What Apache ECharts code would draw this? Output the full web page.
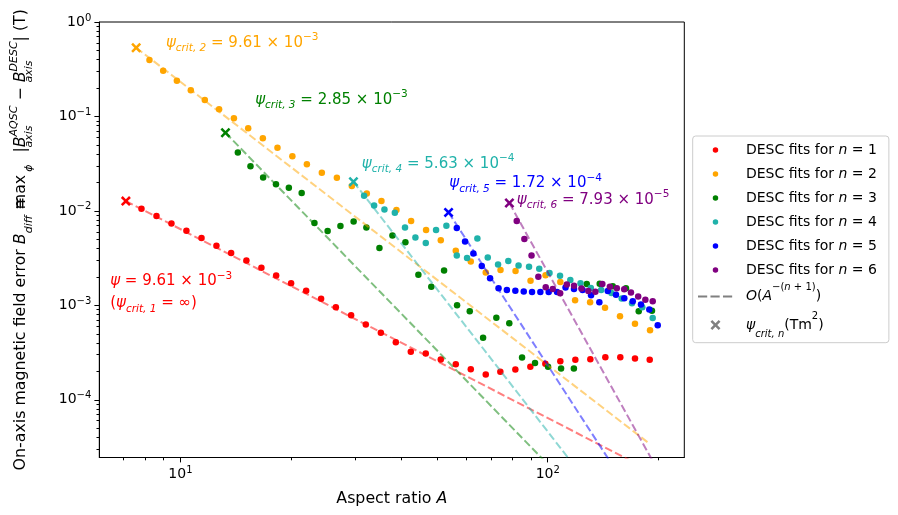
<!DOCTYPE html>
<html>
<head>
<meta charset="utf-8">
<script src="https://cdn.jsdelivr.net/npm/echarts@6/dist/echarts.min.js"></script>
<style>
  html, body { margin: 0; padding: 0; background: #fff; }
  #chart { width: 898px; height: 515px; }
</style>
</head>
<body>
<div id="chart"></div>
<script>
// DESC fit errors (T) against aspect ratio A, one pair of arrays per order n
const aspect1 = [7.831, 8.604, 9.451, 10.38, 11.41, 12.53, 13.74, 15.12, 16.61, 18.22, 20.01, 21.99, 24.15, 26.49, 29.15, 31.96, 35.12, 38.58, 42.38, 46.55, 51.14, 56.18, 61.72, 67.80, 74.29, 81.62, 89.66, 98.51, 108.2, 118.9, 130.6, 143.5, 157.6, 172.8, 189.5];
const error1 = [0.01053, 0.008810, 0.007372, 0.006153, 0.005151, 0.004270, 0.003572, 0.002990, 0.002496, 0.002074, 0.001718, 0.001424, 0.001172, 0.0009570, 0.0007873, 0.0006277, 0.0005112, 0.0004075, 0.0003217, 0.0003094, 0.0002673, 0.0002383, 0.0002109, 0.0001853, 0.0001984, 0.0002094, 0.0002231, 0.0002400, 0.0002563, 0.0002660, 0.0002680, 0.0002813, 0.0002813, 0.0002738, 0.0002647];

const aspect2 = [8.234, 8.972, 9.777, 10.67, 11.65, 12.74, 13.98, 15.29, 16.76, 18.37, 20.17, 22.09, 24.26, 26.66, 29.28, 32.16, 35.25, 38.73, 42.46, 46.64, 51.14, 56.18, 61.72, 67.80, 74.38, 81.72, 89.77, 98.63, 108.2, 118.7, 130.4, 143.2, 157.3, 172.8, 189.9];
const error2 = [0.3958, 0.3049, 0.2389, 0.1890, 0.1492, 0.1189, 0.09547, 0.07482, 0.05862, 0.04661, 0.03778, 0.03116, 0.02533, 0.02242, 0.01831, 0.01532, 0.01270, 0.01020, 0.007796, 0.006259, 0.004882, 0.003778, 0.002918, 0.002231, 0.002360, 0.002303, 0.001817, 0.002078, 0.001761, 0.001129, 0.001081, 0.0009455, 0.0007684, 0.0006400, 0.0005460];

const aspect3 = [14.33, 15.51, 16.79, 18.20, 19.73, 21.38, 23.16, 25.16, 27.26, 29.61, 32.08, 34.81, 37.77, 40.97, 44.44, 48.19, 52.21, 56.64, 61.33, 66.67, 72.45, 78.58, 85.12, 92.34, 100.2, 108.7, 117.8, 127.7, 138.5, 150.3, 163.3, 176.9, 192.2];
const error3 = [0.04146, 0.02968, 0.02253, 0.01909, 0.01753, 0.01543, 0.007463, 0.006109, 0.006935, 0.007739, 0.006653, 0.004036, 0.005500, 0.004649, 0.002104, 0.001570, 0.002331, 0.001005, 0.0008681, 0.0004548, 0.0007373, 0.0006447, 0.0002806, 0.0002454, 0.0002231, 0.0002146, 0.0002146, 0.001685, 0.001689, 0.001597, 0.001521, 0.0008681, 0.0008787];

const aspect4 = [31.62, 33.67, 35.92, 38.34, 40.87, 43.62, 46.55, 49.65, 52.97, 56.54, 60.30, 64.33, 68.66, 73.23, 78.09, 83.28, 88.93, 94.81, 101.1, 108.0, 115.2, 122.8, 131.0, 139.8, 149.1, 159.0, 169.6, 180.9, 193.1];
const error4 = [0.01446, 0.01143, 0.01037, 0.009547, 0.006686, 0.005239, 0.004584, 0.006290, 0.006952, 0.003378, 0.003162, 0.005088, 0.003217, 0.002712, 0.002954, 0.002634, 0.002558, 0.002436, 0.002203, 0.002054, 0.001849, 0.001718, 0.001528, 0.001456, 0.001353, 0.001183, 0.001055, 0.0009570, 0.0007355];

const aspect5 = [56.54, 59.55, 62.74, 66.13, 69.66, 73.46, 77.40, 81.62, 86.04, 90.62, 95.47, 100.6, 106.0, 111.8, 117.9, 124.4, 131.2, 138.2, 145.7, 153.4, 161.6, 170.4, 179.4, 189.0, 199.3];
const error5 = [0.006573, 0.004752, 0.003528, 0.002602, 0.001941, 0.001521, 0.001449, 0.001431, 0.001397, 0.001380, 0.001380, 0.001380, 0.001380, 0.001540, 0.001485, 0.001449, 0.001282, 0.001081, 0.001414, 0.001292, 0.001192, 0.001108, 0.001022, 0.0009050, 0.0006171];

const aspect6 = [82.34, 86.37, 90.34, 94.28, 98.75, 103.2, 108.1, 112.7, 117.9, 123.5, 129.0, 134.8, 140.8, 147.6, 154.2, 161.5, 168.5, 176.3, 184.4, 193.1];
const error6 = [0.007796, 0.005051, 0.003378, 0.002004, 0.001551, 0.001492, 0.001346, 0.001665, 0.001609, 0.001503, 0.001421, 0.001390, 0.001685, 0.001570, 0.001521, 0.001478, 0.001369, 0.001239, 0.001143, 0.001103];

// psi_crit points (crosses) and where each O(A^-(n+1)) guide line ends
const critAspect = [7.102, 7.576, 13.26, 29.58, 53.70, 78.63];
const critError = [0.01270, 0.5341, 0.06720, 0.02034, 0.009641, 0.01210];
const guideEndAspect = [189.5, 189.9, 192.2, 193.1, 199.3, 193.1];
const guideEndError = [1.784e-5, 3.394e-5, 1.520e-6, 1.713e-6, 3.695e-6, 2.241e-5];
const critMantissa = ['9.61', '9.61', '2.85', '5.63', '1.72', '7.93'];
const critExponent = ['−3', '−3', '−3', '−4', '−4', '−5'];

const orderNames = ['DESC fits for n = 1', 'DESC fits for n = 2', 'DESC fits for n = 3',
  'DESC fits for n = 4', 'DESC fits for n = 5', 'DESC fits for n = 6'];
const guideName = 'O(A^-(n+1))';
const critName = 'psi_crit,n (Tm2)';

// tick positions
const xMajorTicks = [10, 100];
const xMinorTicks = [7, 8, 9, 20, 30, 40, 50, 60, 70, 80, 90, 200];
const yMajorTicks = [1e-4, 1e-3, 1e-2, 1e-1, 1];
const yMinorTicks = [3e-5, 4e-5, 5e-5, 6e-5, 7e-5, 8e-5, 9e-5,
  2e-4, 3e-4, 4e-4, 5e-4, 6e-4, 7e-4, 8e-4, 9e-4,
  2e-3, 3e-3, 4e-3, 5e-3, 6e-3, 7e-3, 8e-3, 9e-3,
  2e-2, 3e-2, 4e-2, 5e-2, 6e-2, 7e-2, 8e-2, 9e-2,
  0.2, 0.3, 0.4, 0.5, 0.6, 0.7, 0.8, 0.9];

const aspects = [aspect1, aspect2, aspect3, aspect4, aspect5, aspect6];
const errors = [error1, error2, error3, error4, error5, error6];
const colors = ['#ff0000', '#ffa500', '#008000', '#20b2aa', '#0000ff', '#800080'];
const guideColors = ['rgba(255,0,0,0.5)', 'rgba(255,165,0,0.5)', 'rgba(0,128,0,0.5)',
  'rgba(32,178,170,0.5)', 'rgba(0,0,255,0.5)', 'rgba(128,0,128,0.5)'];
// label nudges for the psi_crit annotations, relative to each cross
const labelOffsets = [[-25.7, 91.5], [19.7, -4.7], [19.7, -33], [-1.6, -17.7], [-9.2, -29], [-2.6, -3]];

const FONT = 'DejaVu Sans';
const CROSS = 'path://M0,1.8L1.8,0L5,3.2L8.2,0L10,1.8L6.8,5L10,8.2L8.2,10L5,6.8L1.8,10L0,8.2L3.2,5Z';
const DOT = 'path://M0,0L0,0.01M10,10L10,10.01M7.75,5A2.75,2.75,0,1,1,2.25,5A2.75,2.75,0,1,1,7.75,5Z';
const DASHES = 'path://M0,0L0,0.01M35,10L35,10.01M0,4L9.2,4L9.2,6L0,6ZM12.5,4L21.7,4L21.7,6L12.5,6ZM25,4L34.2,4L34.2,6L25,6Z';

function rs(o) { return Object.assign({ fontFamily: FONT }, o); }

const tickRich = {
  t: rs({ fontSize: 14, lineHeight: 18, color: '#000' }),
  sup: rs({ fontSize: 10, lineHeight: 10, verticalAlign: 'top', color: '#000' })
};
function powerLabel(v) {
  const e = Math.round(Math.log10(v));
  return '{t|10}{sup|' + (e < 0 ? '−' + (-e) : e) + '}';
}

const annoRich = {
  t: rs({ fontSize: 15, lineHeight: 22 }),
  i: rs({ fontSize: 15, fontStyle: 'italic', lineHeight: 22 }),
  sub: rs({ fontSize: 10.5, fontStyle: 'italic', lineHeight: 17, verticalAlign: 'bottom' }),
  sup: rs({ fontSize: 10.5, lineHeight: 12, verticalAlign: 'top' })
};
function critText(k) {
  if (k === 0) {
    return '{i|ψ}{t| = ' + critMantissa[0] + ' × 10}{sup|' + critExponent[0] + '}\n' +
      '{t|(}{i|ψ}{sub|crit, 1}{t| = ∞)}';
  }
  return '{i|ψ}{sub|crit, ' + (k + 1) + '}{t| = ' + critMantissa[k] + ' × 10}{sup|' + critExponent[k] + '}';
}

const legendRich = {
  t: rs({ fontSize: 14, color: '#000' }),
  i: rs({ fontSize: 14, fontStyle: 'italic', color: '#000' }),
  sup: rs({ fontSize: 10, lineHeight: 13, verticalAlign: 'top', color: '#000' }),
  supi: rs({ fontSize: 10, fontStyle: 'italic', lineHeight: 13, verticalAlign: 'top', color: '#000' }),
  sub: rs({ fontSize: 10, fontStyle: 'italic', lineHeight: 19, verticalAlign: 'bottom', color: '#000' }),
  sup2: rs({ fontSize: 10, lineHeight: 17, verticalAlign: 'top', color: '#000' })
};
function legendText(name) {
  if (name === guideName) return '{i|O}{t|(}{i|A}{sup|−(}{supi|n}{sup| + 1)}{t|)}';
  if (name === critName) return '{i|ψ}{sub|crit, n}{t|(Tm}{sup2|2}{t|)}';
  return '{t|DESC fits for }{i|n}{t| = ' + name.slice(-1) + '}';
}

const NAME_SIZE = 15.8;
const yNameRich = {
  t: rs({ fontSize: NAME_SIZE, lineHeight: 26, color: '#000' }),
  i: rs({ fontSize: NAME_SIZE, fontStyle: 'italic', lineHeight: 26, color: '#000' }),
  sub: rs({ fontSize: 11, fontStyle: 'italic', lineHeight: 19, verticalAlign: 'bottom', color: '#000' }),
  subz: rs({ fontSize: 11, fontStyle: 'italic', lineHeight: 19, verticalAlign: 'bottom', width: 0.01, color: '#000' }),
  sup: rs({ fontSize: 11, fontStyle: 'italic', lineHeight: 13, verticalAlign: 'top', color: '#000' }),
  maxz: rs({ fontSize: NAME_SIZE, lineHeight: 26, width: 0.01, color: '#000' }),
  phiw: rs({ fontSize: 11, fontStyle: 'italic', lineHeight: 12, verticalAlign: 'bottom', width: 20.8, padding: [0, 0, 0, 13.6], color: '#000' })
};
const yName = '{t|On-axis magnetic field error }{i|B}{sub|diff}{t| ≡ }{maxz|max}{phiw|ϕ}{t| |}' +
  '{i|B}{subz|axis}{sup|AQSC}{t| − }{i|B}{subz|axis}{sup|DESC}{t|| (T)}';

const series = [];
for (let k = 0; k < 6; k++) {
  series.push({
    type: 'scatter',
    name: orderNames[k],
    data: aspects[k].map((a, i) => [a, errors[k][i]]),
    symbol: 'circle',
    symbolSize: 6.5,
    itemStyle: { color: colors[k], opacity: 1 },
    silent: true,
    z: 2
  });
}
for (let k = 0; k < 6; k++) {
  series.push({
    type: 'line',
    name: 'guide' + (k + 1),
    data: [[critAspect[k], critError[k]], [guideEndAspect[k], guideEndError[k]]],
    showSymbol: false,
    symbol: 'none',
    lineStyle: { color: guideColors[k], width: 2, type: [7.7, 3.3] },
    silent: true,
    z: 3
  });
  series.push({
    type: 'scatter',
    name: 'crit' + (k + 1),
    data: [[critAspect[k], critError[k]]],
    symbol: CROSS,
    symbolSize: 10,
    itemStyle: { color: colors[k], opacity: 1 },
    silent: true,
    z: 4,
    label: {
      show: true,
      position: 'right',
      distance: 5,
      offset: labelOffsets[k],
      color: colors[k],
      fontFamily: FONT,
      formatter: critText(k),
      rich: annoRich
    }
  });
}
// legend-only entries
series.push({
  type: 'line', name: guideName, data: [], symbol: 'none',
  itemStyle: { color: '#808080', opacity: 1 },
  lineStyle: { color: '#808080', width: 2, type: [7.7, 3.3] }
});
series.push({
  type: 'scatter', name: critName, data: [], symbol: CROSS,
  itemStyle: { color: '#808080', opacity: 1 }
});

const legendData = orderNames.map(n => ({ name: n, icon: DOT }));
legendData.push({ name: guideName, icon: DASHES, textStyle: { lineHeight: 29 } });
legendData.push({ name: critName, icon: CROSS, textStyle: { lineHeight: 28 } });

const chart = echarts.init(document.getElementById('chart'), null, { renderer: 'canvas' });
chart.setOption({
  animation: false,
  backgroundColor: '#fff',
  textStyle: { fontFamily: FONT },
  grid: {
    left: 99.3, right: 213.7, top: 22, bottom: 57.5,
    show: true, borderColor: '#000', borderWidth: 1, backgroundColor: 'transparent',
    containLabel: false, outerBoundsMode: 'none'
  },
  xAxis: [{
    type: 'log', logBase: 10, min: 6.012, max: 235.4,
    name: 'Aspect ratio {i|A}', nameLocation: 'middle', nameGap: 31,
    nameTextStyle: {
      fontFamily: FONT, fontSize: NAME_SIZE, color: '#000', lineHeight: 20,
      rich: { i: rs({ fontSize: NAME_SIZE, fontStyle: 'italic', lineHeight: 20, color: '#000' }) }
    },
    axisLine: { show: true, onZero: false, lineStyle: { color: '#000', width: 1 } },
    axisTick: { show: true, customValues: xMajorTicks, length: 4.9, lineStyle: { color: '#000', width: 1 } },
    axisLabel: { customValues: xMajorTicks, formatter: powerLabel, rich: tickRich, margin: 8, color: '#000' },
    splitLine: { show: false }
  }, {
    type: 'log', logBase: 10, min: 6.012, max: 235.4, gridIndex: 0, position: 'bottom',
    axisLine: { show: false, onZero: false },
    axisTick: { show: true, customValues: xMinorTicks, length: 2.8, lineStyle: { color: '#000', width: 1 } },
    axisLabel: { show: false },
    splitLine: { show: false }
  }],
  yAxis: [{
    type: 'log', logBase: 10, min: 2.448e-5, max: 1,
    name: yName, nameLocation: 'middle', nameRotate: 90, nameGap: 65,
    nameTextStyle: { fontFamily: FONT, fontSize: NAME_SIZE, color: '#000', lineHeight: 26, rich: yNameRich },
    axisLine: { show: true, onZero: false, lineStyle: { color: '#000', width: 1 } },
    axisTick: { show: true, customValues: yMajorTicks, length: 4.9, lineStyle: { color: '#000', width: 1 } },
    axisLabel: { customValues: yMajorTicks, formatter: powerLabel, rich: tickRich, margin: 8, color: '#000' },
    splitLine: { show: false }
  }, {
    type: 'log', logBase: 10, min: 2.448e-5, max: 1, gridIndex: 0, position: 'left',
    axisLine: { show: false, onZero: false },
    axisTick: { show: true, customValues: yMinorTicks, length: 2.8, lineStyle: { color: '#000', width: 1 } },
    axisLabel: { show: false },
    splitLine: { show: false }
  }],
  legend: {
    orient: 'vertical',
    left: 692.7, top: 136,
    padding: [2, 12, 3.7, 5.3],
    itemWidth: 35, itemHeight: 10, itemGap: 0,
    borderColor: '#cccccc', borderWidth: 1, borderRadius: 3,
    backgroundColor: 'rgba(255,255,255,0.8)',
    selectedMode: false,
    textStyle: { fontFamily: FONT, fontSize: 14, color: '#000', lineHeight: 24, padding: [0, 0, 0, 8], rich: legendRich },
    formatter: legendText,
    data: legendData
  },
  series: series
});
</script>
</body>
</html>
